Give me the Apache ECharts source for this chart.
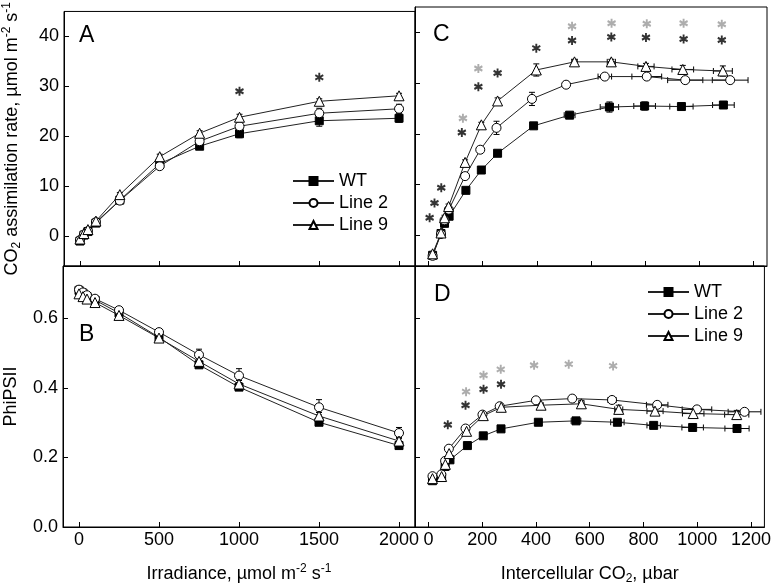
<!DOCTYPE html>
<html>
<head>
<meta charset="utf-8">
<script src="https://cdn.jsdelivr.net/npm/echarts@6/dist/echarts.min.js"></script>
<style>
  html, body { margin: 0; padding: 0; background: #fff; }
  #chart { width: 774px; height: 586px; }
</style>
</head>
<body>
<div id="chart"></div>
<script>
var FONT = 'Liberation Sans, Arial, sans-serif';

// irradiance curves (panels A, B)
var irr = [0, 25, 50, 100, 250, 500, 750, 1000, 1500, 2000];
var A_WT = [-1.0, 0.2, 0.9, 2.6, 7.2, 14.5, 18.0, 20.5, 23.1, 23.6];
var A_L2 = [-0.8, 0.3, 1.0, 2.8, 7.1, 14.0, 19.0, 22.0, 24.6, 25.5];
var A_L9 = [-0.6, 0.5, 1.3, 3.0, 8.3, 15.9, 20.6, 23.8, 27.0, 28.1];
var A_WT_err = [0.3, 0.2, 0.2, 0.2, 0.3, 0.5, 0.5, 0.8, 1.1, 0.8];
var A_L2_err = [0.3, 0.2, 0.2, 0.2, 0.4, 0.5, 0.5, 0.6, 1.0, 0.9];
var A_L9_err = [0.3, 0.2, 0.2, 0.3, 0.4, 0.5, 0.5, 0.6, 0.5, 0.5];
var A_star_x = [1000, 1500];
var A_star_y = [29.0, 31.8];

var B_WT = [0.680, 0.672, 0.662, 0.652, 0.615, 0.545, 0.466, 0.402, 0.301, 0.234];
var B_L2 = [0.682, 0.674, 0.666, 0.656, 0.623, 0.560, 0.495, 0.435, 0.344, 0.270];
var B_L9 = [0.670, 0.662, 0.655, 0.645, 0.608, 0.543, 0.476, 0.411, 0.319, 0.247];
var B_WT_err = [0.008, 0.008, 0.008, 0.008, 0.008, 0.008, 0.008, 0.008, 0.008, 0.008];
var B_L2_err = [0.010, 0.010, 0.008, 0.008, 0.008, 0.010, 0.016, 0.020, 0.022, 0.016];
var B_L9_err = [0.010, 0.010, 0.008, 0.008, 0.008, 0.008, 0.010, 0.010, 0.010, 0.010];

// intercellular CO2 curves (panels C, D)
var C_WT_x = [15, 46, 59, 76, 138, 195, 255, 388, 521, 668, 798, 934, 1089];
var C_WT_y = [-3.9, 0.4, 2.4, 3.8, 8.9, 12.9, 16.2, 21.6, 23.7, 25.3, 25.5, 25.4, 25.7];
var C_WT_xerr = [0, 0, 0, 0, 0, 0, 0, 0, 20, 34, 40, 43, 40];
var C_WT_yerr = [0.5, 0.3, 0.3, 0.3, 0.3, 0.3, 0.3, 0.4, 0.4, 1.0, 0.8, 0.4, 0.4];
var C_L2_x = [15, 46, 59, 75, 135, 191, 251, 382, 508, 651, 806, 948, 1114];
var C_L2_y = [-4.0, 0.3, 3.0, 5.1, 11.7, 16.9, 21.2, 26.9, 29.7, 31.3, 31.3, 30.6, 30.6];
var C_L2_xerr = [0, 0, 0, 0, 0, 0, 0, 0, 10, 25, 55, 65, 66];
var C_L2_yerr = [0.5, 0.4, 0.4, 0.4, 0.5, 0.5, 1.3, 1.3, 0.5, 0.4, 0.5, 0.5, 0.4];
var C_L9_x = [15, 46, 59, 74, 135, 195, 255, 398, 539, 675, 803, 939, 1087];
var C_L9_y = [-3.6, 0.5, 3.5, 5.7, 14.4, 21.8, 26.5, 32.6, 34.2, 34.2, 33.3, 32.7, 32.4];
var C_L9_xerr = [0, 0, 0, 0, 0, 0, 0, 0, 10, 15, 30, 40, 35];
var C_L9_yerr = [0.5, 0.5, 0.5, 0.5, 0.5, 0.5, 0.6, 1.2, 0.5, 0.5, 0.6, 0.8, 1.0];
var C_star_x = [4, 22, 47, 123, 184, 255, 398, 530, 675, 803, 942, 1083];
var C_star_y = [3.5, 6.4, 9.4, 20.3, 29.3, 32.0, 36.9, 38.4, 39.1, 39.0, 38.7, 38.5];
var C_gstar_x = [127, 184, 530, 676, 806, 942, 1083];
var C_gstar_y = [23.1, 32.9, 41.2, 41.8, 41.7, 41.8, 41.6];

var D_WT_x = [15, 49, 62, 80, 145, 204, 270, 409, 549, 703, 838, 983, 1148];
var D_WT_y = [0.133, 0.143, 0.174, 0.193, 0.234, 0.262, 0.282, 0.301, 0.305, 0.301, 0.292, 0.286, 0.283];
var D_WT_xerr = [0, 0, 0, 0, 0, 0, 0, 10, 18, 25, 25, 40, 45];
var D_L2_x = [15, 48, 62, 76, 138, 201, 265, 400, 535, 683, 851, 999, 1176];
var D_L2_y = [0.146, 0.151, 0.190, 0.225, 0.283, 0.323, 0.347, 0.364, 0.369, 0.365, 0.351, 0.338, 0.331];
var D_L2_xerr = [0, 0, 0, 0, 0, 0, 0, 8, 10, 15, 40, 55, 61];
var D_L9_x = [15, 49, 63, 77, 142, 204, 271, 419, 569, 708, 843, 985, 1147];
var D_L9_y = [0.139, 0.145, 0.180, 0.211, 0.275, 0.320, 0.344, 0.350, 0.354, 0.338, 0.333, 0.326, 0.323];
var D_L9_xerr = [0, 0, 0, 0, 0, 0, 0, 8, 10, 15, 30, 40, 45];
var D_L9_yerr = [0, 0, 0, 0, 0, 0, 0, 0, 0.010, 0.012, 0.012, 0.012, 0.012];
var D_star_x = [72, 138, 205, 270];
var D_star_y = [0.294, 0.350, 0.396, 0.410];
var D_gstar_x = [140, 205, 269, 393, 522, 687];
var D_gstar_y = [0.389, 0.436, 0.453, 0.465, 0.468, 0.463];

var irrTicks = [0, 500, 1000, 1500, 2000];
var ciTicks = [0, 200, 400, 600, 800, 1000, 1200];
var anTicks = [0, 10, 20, 30, 40];
var phiTicks = [0, 0.2, 0.4, 0.6];
var names = ['WT', 'Line 2', 'Line 9'];

var STAR = 'path://M5,0L5,10M0.67,2.5L9.33,7.5M0.67,7.5L9.33,2.5';

function pairs(xs, ys) {
    return xs.map(function (x, i) { return [x, ys[i]]; });
}

function curve(name, idx, xs, ys) {
    var sym = { 'WT': ['rect', 8, '#000'], 'Line 2': ['circle', 9, '#fff'], 'Line 9': ['triangle', 10, '#fff'] }[name];
    return {
        name: name, type: 'line', xAxisIndex: idx, yAxisIndex: idx,
        data: pairs(xs, ys), symbol: sym[0], symbolSize: sym[1], showAllSymbol: true,
        lineStyle: { color: '#222', width: 1 },
        itemStyle: { color: sym[2], borderColor: '#000', borderWidth: 1 },
        z: 3
    };
}

function errBars(idx, xs, ys, ex, ey) {
    var data = xs.map(function (x, i) {
        return [x, ys[i], ex ? ex[i] : 0, ey ? ey[i] : 0];
    });
    return {
        type: 'custom', xAxisIndex: idx, yAxisIndex: idx, silent: true, z: 1,
        data: data,
        renderItem: function (params, api) {
            var x = api.value(0), y = api.value(1), dx = api.value(2), dy = api.value(3);
            var kids = [], c = 3;
            var st = { stroke: '#000', lineWidth: 1 };
            if (dy > 0) {
                var p1 = api.coord([x, y + dy]), p2 = api.coord([x, y - dy]);
                kids.push({ type: 'line', shape: { x1: p1[0], y1: p1[1], x2: p2[0], y2: p2[1] }, style: st });
                kids.push({ type: 'line', shape: { x1: p1[0] - c, y1: p1[1], x2: p1[0] + c, y2: p1[1] }, style: st });
                kids.push({ type: 'line', shape: { x1: p2[0] - c, y1: p2[1], x2: p2[0] + c, y2: p2[1] }, style: st });
            }
            if (dx > 0) {
                var q1 = api.coord([x - dx, y]), q2 = api.coord([x + dx, y]);
                kids.push({ type: 'line', shape: { x1: q1[0], y1: q1[1], x2: q2[0], y2: q2[1] }, style: st });
                kids.push({ type: 'line', shape: { x1: q1[0], y1: q1[1] - c, x2: q1[0], y2: q1[1] + c }, style: st });
                kids.push({ type: 'line', shape: { x1: q2[0], y1: q2[1] - c, x2: q2[0], y2: q2[1] + c }, style: st });
            }
            return { type: 'group', children: kids };
        }
    };
}

function stars(idx, xs, ys, color) {
    return {
        type: 'scatter', xAxisIndex: idx, yAxisIndex: idx, silent: true, z: 4,
        data: pairs(xs, ys), symbol: STAR, symbolSize: [8, 9],
        itemStyle: { color: 'transparent', borderColor: color, borderWidth: 2 }
    };
}

function xAx(idx, min, max, ticks, label, name) {
    return {
        type: 'value', gridIndex: idx, min: min, max: max,
        axisLine: { show: true, onZero: false, lineStyle: { color: '#000', width: 1 } },
        axisTick: { show: true, inside: true, length: 5, customValues: ticks, lineStyle: { color: '#000' } },
        axisLabel: {
            show: label, customValues: ticks, margin: 4, fontSize: 18, color: '#000', fontFamily: FONT,
            formatter: function (v) { return String(v); }
        },
        splitLine: { show: false },
        name: name || '', nameLocation: 'middle', nameGap: 36,
        nameTextStyle: {
            fontSize: 18, color: '#000', fontFamily: FONT,
            rich: {
                a: { fontSize: 18, fontFamily: FONT, color: '#000', lineHeight: 22 },
                s: { fontSize: 12, fontFamily: FONT, color: '#000', lineHeight: 22, verticalAlign: 'top' },
                b: { fontSize: 12, fontFamily: FONT, color: '#000', lineHeight: 22, verticalAlign: 'bottom' }
            }
        }
    };
}

function yAx(idx, min, max, ticks, label, fmt, name) {
    var ax = xAx(idx, min, max, ticks, label, name);
    ax.axisLabel.margin = 5;
    if (fmt) ax.axisLabel.formatter = fmt;
    ax.nameGap = 41;
    return ax;
}

var grids = [
    { left: 63, top: 7, width: 352, height: 259 },
    { left: 63, top: 266, width: 352, height: 261 },
    { left: 415, top: 7, width: 352, height: 259 },
    { left: 415, top: 266, width: 352, height: 261 }
].map(function (g) {
    g.show = true; g.borderColor = '#000'; g.borderWidth = 1; g.containLabel = false;
    return g;
});

var series = [
    errBars(0, irr, A_WT, null, A_WT_err), errBars(0, irr, A_L2, null, A_L2_err), errBars(0, irr, A_L9, null, A_L9_err),
    curve('WT', 0, irr, A_WT), curve('Line 2', 0, irr, A_L2), curve('Line 9', 0, irr, A_L9),
    stars(0, A_star_x, A_star_y, '#000'),

    errBars(1, irr, B_WT, null, B_WT_err), errBars(1, irr, B_L2, null, B_L2_err), errBars(1, irr, B_L9, null, B_L9_err),
    curve('WT', 1, irr, B_WT), curve('Line 2', 1, irr, B_L2), curve('Line 9', 1, irr, B_L9),

    errBars(2, C_WT_x, C_WT_y, C_WT_xerr, C_WT_yerr), errBars(2, C_L2_x, C_L2_y, C_L2_xerr, C_L2_yerr),
    errBars(2, C_L9_x, C_L9_y, C_L9_xerr, C_L9_yerr),
    curve('WT', 2, C_WT_x, C_WT_y), curve('Line 2', 2, C_L2_x, C_L2_y), curve('Line 9', 2, C_L9_x, C_L9_y),
    stars(2, C_star_x, C_star_y, '#000'), stars(2, C_gstar_x, C_gstar_y, '#999'),

    errBars(3, D_WT_x, D_WT_y, D_WT_xerr, null), errBars(3, D_L2_x, D_L2_y, D_L2_xerr, null),
    errBars(3, D_L9_x, D_L9_y, D_L9_xerr, D_L9_yerr),
    curve('WT', 3, D_WT_x, D_WT_y), curve('Line 2', 3, D_L2_x, D_L2_y), curve('Line 9', 3, D_L9_x, D_L9_y),
    stars(3, D_star_x, D_star_y, '#000'), stars(3, D_gstar_x, D_gstar_y, '#999')
];

function legendAt(left, top) {
    return {
        data: names, orient: 'vertical', left: left, top: top, padding: 0,
        itemWidth: 41, itemHeight: 10, itemGap: 4, selectedMode: false,
        textStyle: { fontSize: 18, color: '#000', fontFamily: FONT, lineHeight: 18 }
    };
}

function letter(t, x, y) {
    return {
        type: 'text', left: x, top: y,
        style: { text: t, fontSize: 23, fontFamily: FONT, fill: '#000' }
    };
}

var option = {
    animation: false,
    backgroundColor: '#fff',
    grid: grids,
    xAxis: [
        xAx(0, -100, 2100, irrTicks, false),
        xAx(1, -100, 2100, irrTicks, true, '{a|Irradiance, µmol m}{s|-2}{a| s}{s|-1}'),
        xAx(2, -50, 1250, ciTicks, false),
        xAx(3, -50, 1250, ciTicks, true, '{a|Intercellular CO}{b|2}{a|, µbar}')
    ],
    yAxis: [
        yAx(0, -6, 45, anTicks, true, null, '{a|CO}{b|2}{a| assimilation rate, µmol m}{s|-2}{a| s}{s|-1}'),
        yAx(1, 0, 0.75, phiTicks, true, function (v) { return v.toFixed(1); }, '{a|PhiPSII}'),
        yAx(2, -6, 45, anTicks, false),
        yAx(3, 0, 0.75, phiTicks, false)
    ],
    legend: [legendAt(292, 172), legendAt(647, 283)],
    graphic: [
        letter('A', 79, 24),
        letter('B', 79, 323),
        letter('C', 433, 23),
        letter('D', 434, 283)
    ],
    series: series
};

var chart = echarts.init(document.getElementById('chart'));
chart.setOption(option);
</script>
</body>
</html>
